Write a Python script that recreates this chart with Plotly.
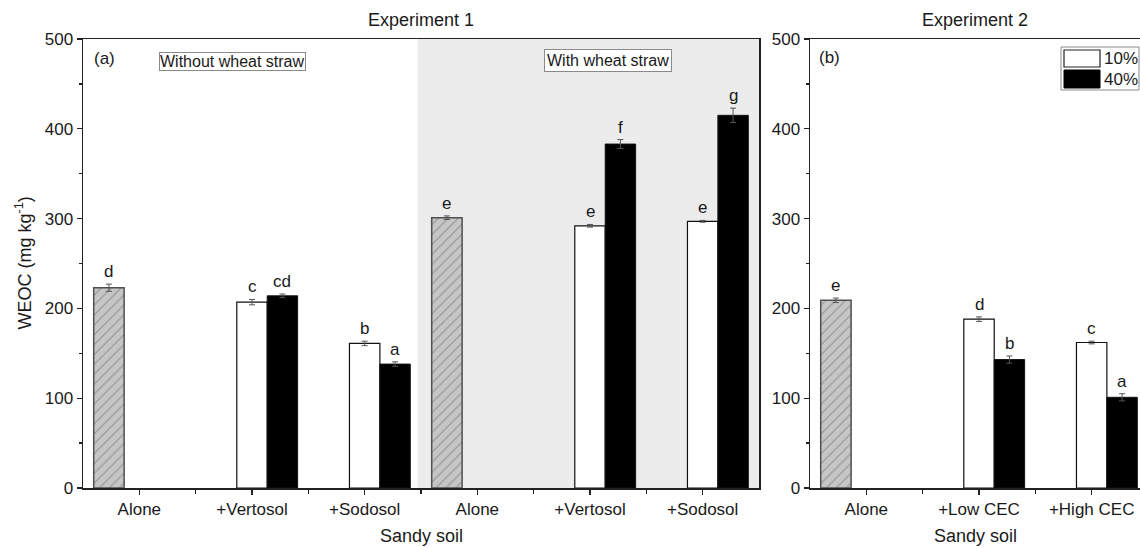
import plotly.graph_objects as go

# ---------------- data ----------------
left_cats = ["Alone", "+Vertosol", "+Sodosol", "Alone", "+Vertosol", "+Sodosol"]
left_alone = [223, None, None, 301, None, None]
left_alone_err = [4, 0, 0, 2, 0, 0]
left_10 = [None, 207, 161, None, 292, 297]
left_10_err = [0, 3, 2.5, 0, 1.5, 1]
left_40 = [None, 214, 138, None, 383, 415]
left_40_err = [0, 2, 2.5, 0, 5, 8]
left_alone_lbl = ["d", "", "", "e", "", ""]
left_10_lbl = ["", "c", "b", "", "e", "e"]
left_40_lbl = ["", "cd", "a", "", "f", "g"]

right_cats = ["Alone", "+Low CEC", "+High CEC"]
right_alone = [209, None, None]
right_alone_err = [2.5, 0, 0]
right_10 = [None, 188, 162]
right_10_err = [0, 2.5, 1.5]
right_40 = [None, 143, 101]
right_40_err = [0, 4, 4]
right_alone_lbl = ["e", "", ""]
right_10_lbl = ["", "d", "c"]
right_40_lbl = ["", "b", "a"]

series_names = ["Alone", "10%", "40%"]
y_ticks = [0, 100, 200, 300, 400, 500]

# ---------------- style ----------------
W, H = 1140, 547
FONT = "Liberation Sans, Arial, sans-serif"
TXT = "#1a1a1a"
BARGAP = 0.19
BAR_W = (1 - BARGAP) / 3
OFFS = [-BAR_W, 0, BAR_W]

def px_x(p):
    return p / W

def px_y(p):
    return 1 - p / H

LX0, LX1 = 83, 759
RX0, RX1 = 810, 1140
YT, YB = 39, 488
unit_px = (LX1 - LX0) / len(left_cats)

fig = go.Figure()

err_style = dict(type="data", thickness=1, width=3, color="#555555")

def add_panel(xs, alone, alone_err, s10, s10_err, s40, s40_err, xa, ya):
    fig.add_trace(go.Bar(
        x=xs, y=alone, name=series_names[0], xaxis=xa, yaxis=ya,
        marker=dict(color="#c6c6c6", line=dict(color="#505050", width=1.5),
                    pattern=dict(shape="/", fgcolor="#5e5e5e", bgcolor="#c6c6c6",
                                 size=7, solidity=0.16)),
        error_y=dict(array=alone_err, **err_style), showlegend=False))
    fig.add_trace(go.Bar(
        x=xs, y=s10, name=series_names[1], xaxis=xa, yaxis=ya,
        marker=dict(color="white", line=dict(color="#111111", width=1.2)),
        error_y=dict(array=s10_err, **err_style), showlegend=False))
    fig.add_trace(go.Bar(
        x=xs, y=s40, name=series_names[2], xaxis=xa, yaxis=ya,
        marker=dict(color="black", line=dict(color="#111111", width=1)),
        error_y=dict(array=s40_err, **err_style), showlegend=False))

left_x = list(range(1, len(left_cats) + 1))
right_x = list(range(1, len(right_cats) + 1))

add_panel(left_x, left_alone, left_alone_err, left_10, left_10_err,
          left_40, left_40_err, "x", "y")
add_panel(right_x, right_alone, right_alone_err, right_10, right_10_err,
          right_40, right_40_err, "x2", "y2")

annotations = []

def txt(size=17):
    return dict(size=size, color=TXT, family=FONT)

def add_letters(xs, vals, errs, lbls, off, xref, yref):
    for x, v, e, t in zip(xs, vals, errs, lbls):
        if v is None or not t:
            continue
        annotations.append(dict(x=x + off, y=v + e, xref=xref, yref=yref,
                                text=t, showarrow=False, yanchor="bottom",
                                xanchor="center", yshift=1, font=txt(17)))

add_letters(left_x, left_alone, left_alone_err, left_alone_lbl, OFFS[0], "x", "y")
add_letters(left_x, left_10, left_10_err, left_10_lbl, OFFS[1], "x", "y")
add_letters(left_x, left_40, left_40_err, left_40_lbl, OFFS[2], "x", "y")
add_letters(right_x, right_alone, right_alone_err, right_alone_lbl, OFFS[0], "x2", "y2")
add_letters(right_x, right_10, right_10_err, right_10_lbl, OFFS[1], "x2", "y2")
add_letters(right_x, right_40, right_40_err, right_40_lbl, OFFS[2], "x2", "y2")

annotations += [
    dict(x=0.5, y=px_y(20), xref="x domain", yref="paper", text="Experiment 1",
         showarrow=False, xanchor="center", yanchor="middle", font=txt(18)),
    dict(x=0.5, y=px_y(20), xref="x2 domain", yref="paper", text="Experiment 2",
         showarrow=False, xanchor="center", yanchor="middle", font=txt(18)),
    dict(x=0.5, y=px_y(536), xref="x domain", yref="paper", text="Sandy soil",
         showarrow=False, xanchor="center", yanchor="middle", font=txt(18)),
    dict(x=0.5, y=px_y(536), xref="x2 domain", yref="paper", text="Sandy soil",
         showarrow=False, xanchor="center", yanchor="middle", font=txt(18)),
    dict(x=px_x(24), y=0.5, xref="paper", yref="y domain",
         text="WEOC (mg kg<sup>-1</sup>)", textangle=-90, showarrow=False,
         xanchor="center", yanchor="middle", font=txt(18)),
    dict(x=(92 - LX0) / (LX1 - LX0), y=(YB - 58) / (YB - YT), xref="x domain",
         yref="y domain", text="(a)", xanchor="left", yanchor="middle",
         showarrow=False, font=txt(17)),
    dict(x=(817 - RX0) / (RX1 - RX0), y=(YB - 57) / (YB - YT), xref="x2 domain",
         yref="y2 domain", text="(b)", xanchor="left", yanchor="middle",
         showarrow=False, font=txt(17)),
    dict(x=(232 - LX0) / (LX1 - LX0), y=(YB - 61) / (YB - YT), xref="x domain",
         yref="y domain", text="Without wheat straw", showarrow=False,
         xanchor="center", yanchor="middle",
         bordercolor="#8a8a8a", borderwidth=1, borderpad=0, bgcolor="white",
         font=txt(16)),
    dict(x=(608 - LX0) / (LX1 - LX0), y=(YB - 60) / (YB - YT), xref="x domain",
         yref="y domain", text="With wheat straw", showarrow=False,
         xanchor="center", yanchor="middle",
         bordercolor="#8a8a8a", borderwidth=1, borderpad=2, bgcolor="white",
         font=txt(16)),
    dict(x=px_x(1102), y=px_y(58), xref="paper", yref="paper", text="10%",
         xanchor="left", yanchor="middle", showarrow=False, font=txt(17)),
    dict(x=px_x(1102), y=px_y(79), xref="paper", yref="paper", text="40%",
         xanchor="left", yanchor="middle", showarrow=False, font=txt(17)),
]

shapes = [
    # shaded "with wheat straw" region
    dict(type="rect", xref="x", yref="y domain", x0=3.47, x1=len(left_cats) + 0.5,
         y0=0, y1=1, fillcolor="#ececec", line=dict(width=0), layer="below"),
    # legend frame and swatches
    dict(type="rect", xref="paper", yref="paper", x0=px_x(1061), x1=px_x(1139),
         y0=px_y(90), y1=px_y(47), line=dict(color="#8a8a8a", width=1),
         fillcolor="white", layer="above"),
    dict(type="rect", xref="paper", yref="paper", x0=px_x(1064), x1=px_x(1100),
         y0=px_y(67), y1=px_y(50), line=dict(color="#222222", width=1.2),
         fillcolor="white", layer="above"),
    dict(type="rect", xref="paper", yref="paper", x0=px_x(1064), x1=px_x(1100),
         y0=px_y(88), y1=px_y(70), line=dict(color="black", width=1),
         fillcolor="black", layer="above"),
]

axis_common = dict(showgrid=False, zeroline=False, showline=True, linecolor="#222222",
                   linewidth=1.5, ticks="outside", ticklen=5, tickwidth=1.3,
                   tickcolor="#222222", tickfont=txt(17))

fig.update_layout(
    width=W, height=H, margin=dict(l=0, r=0, t=0, b=0),
    paper_bgcolor="white", plot_bgcolor="rgba(0,0,0,0)",
    barmode="group", bargap=BARGAP, bargroupgap=0,
    showlegend=False, annotations=annotations, shapes=shapes,
    xaxis=dict(domain=[px_x(LX0), px_x(LX1)], range=[0.5, len(left_cats) + 0.5],
               tickmode="array", tickvals=left_x, ticktext=left_cats, mirror=True,
               minor=dict(tickmode="array",
                          tickvals=[i + 0.5 for i in left_x[:-1]],
                          ticks="outside", ticklen=4, tickcolor="#222222"),
               anchor="y", automargin=False, **axis_common),
    yaxis=dict(domain=[px_y(YB), px_y(YT)], range=[0, 500], tickvals=y_ticks,
               mirror=True, anchor="x", automargin=False,
               minor=dict(dtick=50, ticks="outside", ticklen=3, tickcolor="#222222"),
               **axis_common),
    xaxis2=dict(domain=[px_x(RX0), 1.0],
                range=[0.5, 0.5 + (RX1 - RX0) / unit_px],
                tickmode="array", tickvals=right_x, ticktext=right_cats, mirror=True,
                minor=dict(tickmode="array",
                           tickvals=[i + 0.5 for i in right_x[:-1]],
                           ticks="outside", ticklen=4, tickcolor="#222222"),
                anchor="y2", automargin=False, **axis_common),
    yaxis2=dict(domain=[px_y(YB), px_y(YT)], range=[0, 500], tickvals=y_ticks,
                anchor="x2", automargin=False,
                minor=dict(dtick=50, ticks="outside", ticklen=3, tickcolor="#222222"),
                **axis_common),
)

fig.write_html(
    "out.html",
    config={"displayModeBar": False, "staticPlot": True},
    post_script="document.body.style.margin='0';document.body.style.padding='0';"
                "document.body.style.overflow='hidden';",
)
